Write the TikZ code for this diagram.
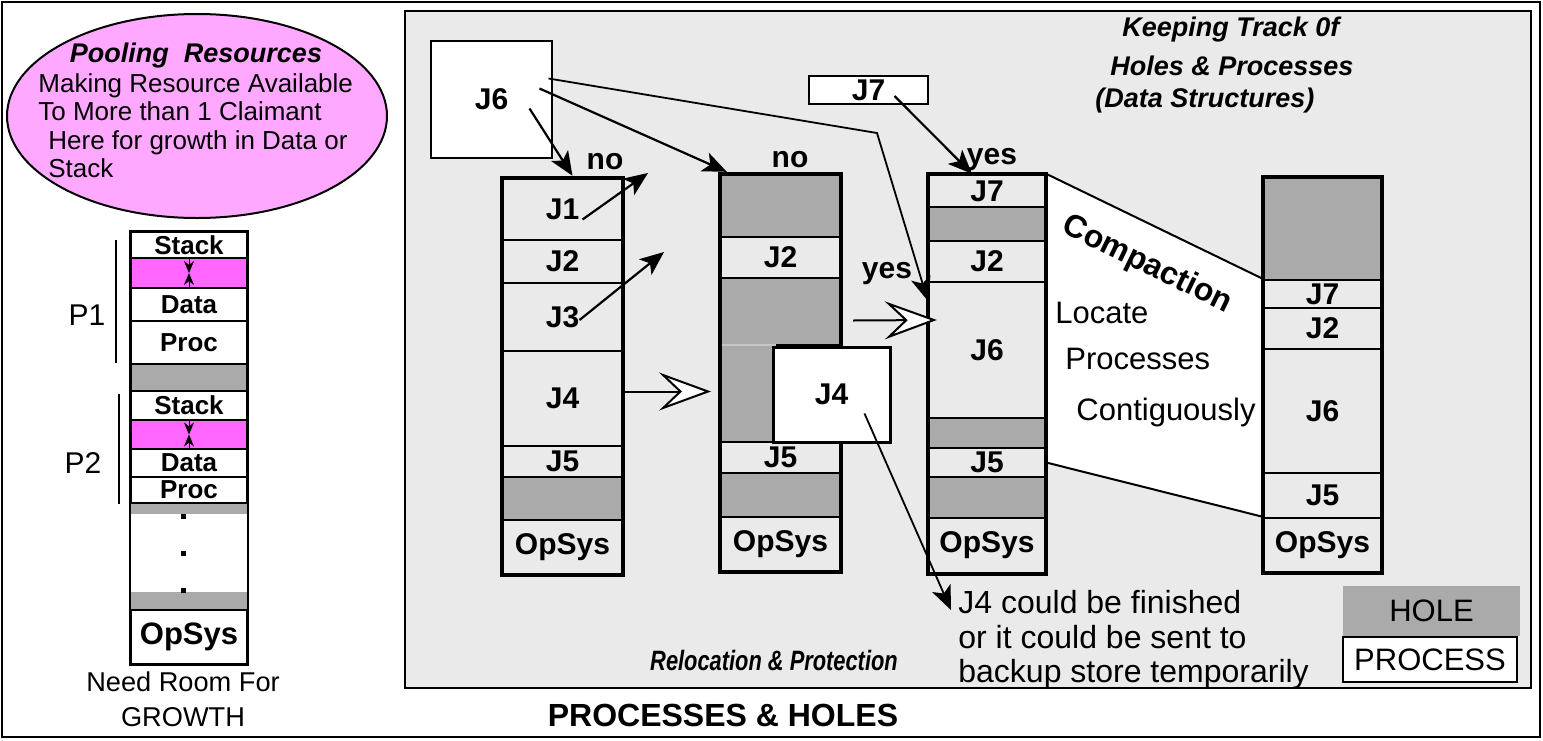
\documentclass[tikz,border=0pt]{standalone}
\usepackage{fontspec}
\setmainfont{Liberation Sans}
\usetikzlibrary{arrows.meta, positioning, shapes.geometric, calc}

\definecolor{panelbg}{RGB}{234,234,234}
\definecolor{holegray}{RGB}{170,170,170}
\definecolor{growpink}{RGB}{255,102,255}
\definecolor{poolpink}{RGB}{255,168,255}

\newcommand{\fsz}[1]{\fontsize{#1}{#1}\selectfont}
% one slot of a memory map: [style]{name}{x1}{y1}{x2}{y2}{label}
\newcommand{\cell}[7][proc]{%
  \pgfmathsetmacro\cellw{(#5-#3)/2}\pgfmathsetmacro\cellh{(#6-#4)/2}%
  \node[#1, minimum width=\cellw pt, minimum height=\cellh pt] (#2) at ({(#3+#5)/2},{(#4+#6)/2}) {#7};}

\begin{document}
\begin{tikzpicture}[x=0.5pt, y=-0.5pt, >=Stealth,
    proc/.style={draw, fill=panelbg, line width=1.2pt, inner sep=0pt, font=\bfseries\fsz{15}},
    hole/.style={draw, fill=holegray, line width=1.2pt, inner sep=0pt},
    seg/.style={draw, fill=white, line width=1pt, inner sep=0pt, font=\bfseries\fsz{13}},
    growcell/.style={draw, fill=growpink, line width=1pt, inner sep=0pt},
    colframe/.style={draw, line width=2.2pt},
    box/.style={draw, fill=white, line width=1pt, font=\bfseries\fsz{15}},
    tag/.style={font=\bfseries\fsz{15}},
    note/.style={font=\fsz{15.5}, inner sep=0pt},
    arr/.style={-{Stealth[length=12pt, width=10pt, inset=3pt]}, line width=1.1pt},
    hollow/.style={-{Stealth[length=26pt, width=19pt, inset=10pt, fill=white]}, line width=1pt}]
    \useasboundingbox (0,0) rectangle (1543,740);
    \draw[line width=1pt] (2,2) rectangle (1540,737);

    % Pooling resources
    \node[ellipse, draw, fill=poolpink, line width=1pt, minimum width=190pt, minimum height=102pt] (pool) at (197,116) {};
    \node[font=\bfseries\itshape\fsz{13.5}] (pooltitle) at (196,56) {Pooling\ \ Resources};
    \node[font=\fontsize{13}{14.2}\selectfont, align=left, anchor=north west, inner sep=0pt] (pooltext) at (38,73)
      {Making Resource Available\\To More than 1 Claimant\\\hspace*{5pt}Here for growth in Data or\\\hspace*{5pt}Stack};

    % Left memory map, two growing processes
    \cell[seg]{ls1}{131}{232}{247}{258}{Stack}
    \cell[growcell]{lp1}{131}{258}{247}{288}{}
    \cell[seg]{ld1}{131}{288}{247}{321}{Data}
    \cell[seg]{lc1}{131}{321}{247}{364}{Proc}
    \cell[hole, line width=1pt]{lh1}{131}{364}{247}{391}{}
    \cell[seg]{ls2}{131}{391}{247}{420}{Stack}
    \cell[growcell]{lp2}{131}{420}{247}{449}{}
    \cell[seg]{ld2}{131}{449}{247}{477}{Data}
    \cell[seg]{lc2}{131}{477}{247}{503}{Proc}
    \cell[hole, draw=none]{lh2}{131}{504}{247}{514}{}
    \cell[hole, draw=none]{lh3}{131}{592}{247}{610}{}
    \cell[seg, font=\bfseries\fsz{15.5}]{los}{131}{610}{247}{664}{OpSys}
    \draw[line width=1pt] (ls1.north west) rectangle (los.south east);
    \foreach \y in {516,553,590}
      \fill (181,\y-2) rectangle ++(5,5);
    \draw[-{Stealth[length=6pt, width=5pt]}] (ls1.south) -- (lp1.center);
    \draw[-{Stealth[length=6pt, width=5pt]}] (ld1.north) -- (lp1.center);
    \draw[-{Stealth[length=6pt, width=5pt]}] (ls2.south) -- (lp2.center);
    \draw[-{Stealth[length=6pt, width=5pt]}] (ld2.north) -- (lp2.center);
    \node[font=\fsz{15}] (p1) at (87,315) {P1};
    \node[font=\fsz{15}] (p2) at (83,463) {P2};
    \draw[line width=1pt] (116,240) -- (116,363);
    \draw[line width=1pt] (119,394) -- (119,504);
    \node[font=\fsz{13.6}] (need) at (183,682) {Need Room For};
    \node[font=\fsz{13.6}] (growth) at (183,717) {GROWTH};

    % Processes & holes panel
    \draw[fill=panelbg, line width=1pt] (405,11) rectangle (1531,688);
    \node[font=\bfseries\fsz{16}] (title) at (723,715) {PROCESSES \& HOLES};

    \node[box, minimum width=60.5pt, minimum height=58.5pt] (j6box) at (491.5,99.5) {J6};
    \node[box, minimum width=59.5pt, minimum height=14pt, inner sep=0pt] (j7box) at (868.5,90) {J7};

    % First map
    \cell{c1j1}{503}{179}{622}{240}{J1}
    \cell{c1j2}{503}{240}{622}{283}{J2}
    \cell{c1j3}{503}{283}{622}{351}{J3}
    \cell{c1j4}{503}{351}{622}{446}{J4}
    \cell{c1j5}{503}{446}{622}{477}{J5}
    \cell[hole]{c1h1}{503}{477}{622}{520}{}
    \cell{c1os}{503}{520}{622}{574}{OpSys}
    \draw[colframe] (c1j1.north west) rectangle (c1os.south east);

    % Second map, J4 moved out
    \cell[hole]{c2h1}{721}{175}{840}{237}{}
    \cell{c2j2}{721}{237}{840}{278}{J2}
    \cell[hole]{c2h2}{721}{278}{840}{345}{}
    \cell[hole, draw=gray!45, line width=1pt]{c2h3}{721}{345}{775}{442}{}
    \cell{c2j5}{721}{442}{840}{473}{J5}
    \cell[hole]{c2h4}{721}{473}{840}{517}{}
    \cell{c2os}{721}{517}{840}{571}{OpSys}
    \draw[colframe] (c2h1.north west) rectangle (c2os.south east);
    \node[box, line width=1.5pt, minimum width=58.5pt, minimum height=47.5pt] (j4box) at (831.5,394.5) {J4};

    % Third map
    \cell{c3j7}{929}{175}{1045}{207}{J7}
    \cell[hole]{c3h1}{929}{207}{1045}{241}{}
    \cell{c3j2}{929}{241}{1045}{282}{J2}
    \cell{c3j6}{929}{282}{1045}{418}{J6}
    \cell[hole]{c3h2}{929}{418}{1045}{448}{}
    \cell{c3j5}{929}{448}{1045}{477}{J5}
    \cell[hole]{c3h3}{929}{477}{1045}{518}{}
    \cell{c3os}{929}{518}{1045}{573}{OpSys}

    % Compacted map
    \cell[hole]{c4h1}{1264}{178}{1381}{280}{}
    \cell{c4j7}{1264}{280}{1381}{308}{J7}
    \cell{c4j2}{1264}{308}{1381}{349}{J2}
    \cell{c4j6}{1264}{349}{1381}{473}{J6}
    \cell{c4j5}{1264}{473}{1381}{518}{J5}
    \cell{c4os}{1264}{518}{1381}{572}{OpSys}

    \draw[fill=white, line width=1pt] (c3j7.north east) -- (c4j7.north west) -- (c4os.north west) -- (c3j5.east) -- cycle;
    \draw[colframe] (c3j7.north west) rectangle (c3os.south east);
    \draw[colframe] (c4h1.north west) rectangle (c4os.south east);
    \node[font=\bfseries\fsz{16}, rotate=-26] (compact) at (1147,265) {Compaction};
    \node[note, anchor=west] (locate) at (1055,313) {Locate};
    \node[note, anchor=west] (procs) at (1065,359) {Processes};
    \node[note, anchor=west] (contig) at (1076,412) {Contiguously};

    % Texts
    \node[font=\bfseries\itshape\fsz{13.5}, inner sep=0pt, anchor=west] (kt1) at (1122,30) {Keeping Track 0f};
    \node[font=\bfseries\itshape\fsz{13.5}, inner sep=0pt, anchor=west] (kt2) at (1110,66) {Holes \& Processes};
    \node[font=\bfseries\itshape\fsz{13.5}, inner sep=0pt, anchor=west] (kt3) at (1095,101) {(Data Structures)};
    \node[font=\bfseries\itshape\fsz{14}] (reloc) at (774,660) {\scalebox{0.78}[1]{Relocation \& Protection}};
    \node[note, font=\fontsize{16}{17.25}\selectfont, align=left, anchor=north west] (note) at (958,590)
      {J4 could be finished\\or it could be sent to\\backup store temporarily};

    \node[tag] (no1) at (605,162) {no};
    \node[tag] (no2) at (790,160) {no};
    \node[tag] (yes1) at (992,160) {yes};
    \node[tag] (yes2) at (887,274) {yes};

    % Arrows
    \draw[arr] ($(j6box.center)+(38,9)$) -- ($(c1j1.north)+(10,-2)$);
    \draw[arr] ($(j6box.center)+(48,-11)$) -- ($(c2h1.north west)+(7,-2)$);
    \coordinate (bend) at (877,133);
    \draw[arr, line width=0.9pt] ($(j6box.center)+(57,-21)$) -- (bend) -- ($(c3j6.north west)+(0,20)$);
    \draw[arr] ($(j7box.center)+(26,6)$) -- ($(c3j7.north)+(-15,0)$);
    \coordinate (j1out) at (648,173);
    \coordinate (j3out) at (664,252);
    \draw[arr] ($(c1j1.center)+(20,10)$) -- (j1out);
    \draw[arr] ($(c1j3.center)+(17,3)$) -- (j3out);
    \draw[hollow] ($(c1j4.east)+(0,-7)$) -- ($(c2h3.west)+(-9,-2)$);
    \draw[hollow] ($(c2h2.east)+(12,9)$) -- ($(c3j6.west)+(9,-30)$);
    \draw[arr, line width=0.9pt] ($(j4box.center)+(33,19)$) -- ($(note.north west)+(-7,20)$);

    % Legend
    \node[fill=holegray, minimum width=88.5pt, minimum height=25pt, font=\fsz{15.5}] (lhole) at (1431.5,611) {HOLE};
    \node[draw, fill=white, line width=1pt, minimum width=87pt, minimum height=22.5pt, font=\fsz{15.5}] (lproc) at (1430,659.5) {PROCESS};
\end{tikzpicture}
\end{document}
